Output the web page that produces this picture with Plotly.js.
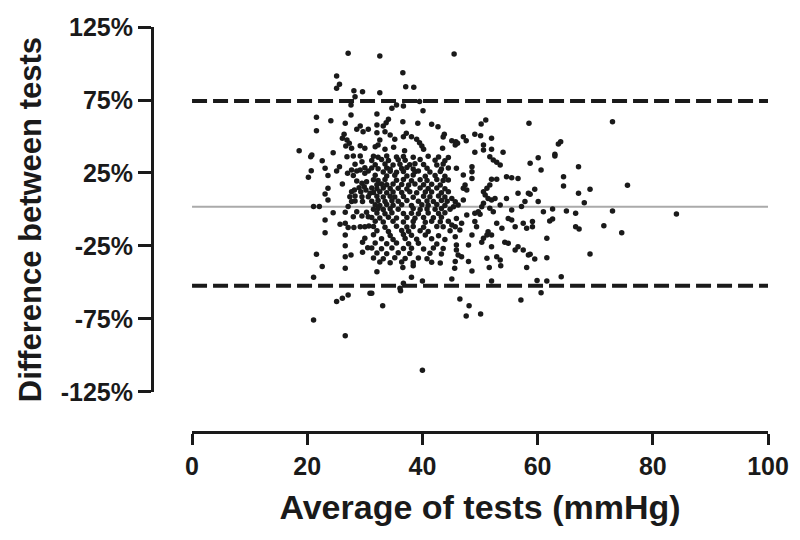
<!DOCTYPE html>
<html>
<head>
<meta charset="utf-8">
<script src="https://cdn.plot.ly/plotly-3.0.1.min.js"></script>
<style>html,body{margin:0;padding:0;background:#fff;}#chart{width:800px;height:540px;}</style>
</head>
<body>
<div id="chart"></div>
<script>
// Bland-Altman: [average of tests (mmHg), difference between tests (%)]
const pointsUpper = [
[27.1,107],[25.1,91.4],[25.6,85.8],[25.1,83],[28.1,81.4],[29.6,80.7],[28.3,77.3],[27.6,71.6],[21.6,63.2],[24.1,60.8],[27.6,64.7],[21.6,54],[26.6,59],[29.2,57.2],[28.6,54.9],[29.7,53.3],[30.6,54.9],[26.4,51.5],[26.1,48.8],[26.9,47.6],[27.3,45.3],[29.2,43.7],[30.0,41.9],[27.7,41.9],[26.7,43.5],[18.6,40.3],[24.5,38.9],[20.8,37.3],
[32.6,105.1],[36.6,93.7],[37.1,84.1],[38.5,83.7],[32.6,80],[39.5,74],[35.5,71.6],[36.7,70.9],[34.7,69.3],[40.1,67.7],[32.1,65.4],[34.1,61.8],[33.7,59.5],[33.2,57.2],[36.6,60.1],[39.2,59],[41.6,58.4],[42.7,56.7],[32.1,57.9],[32.1,52.6],[33.5,53.3],[34.4,51],[36.7,49.9],[37.2,52.2],[38.1,49.9],[39.0,48.1],[39.5,45.8],[39.9,43.5],[40.2,41.2],[35.2,48.1],[32.6,47.6],[32.3,44.2],[31.8,43],[43.8,51.5],[43.6,49.7],[33.5,41.2],[35.0,42.6],[36.9,40.3],[43.5,41.9],
[45.5,106.5],[58.5,59],[51.0,61.3],[50.2,58.6],[47.1,49.9],[47.6,47.1],[49.1,51.5],[50.1,50.5],[52.0,48.8],[45.1,47.1],[45.8,46.4],[45.7,44.2],[46.1,45.3],[50.6,44.2],[50.6,40.8],[52.0,41.2],[49.1,39.2],[54.0,39.2],
[73.0,60.1],[64.0,46.4],[63.6,44.9],[63.0,37.8]
];
const pointsLeft = [
[20.6,36.2],[22.6,33.4],[26.9,36.2],[28.0,36.6],[29.2,36.6],[29.5,32.7],[28.3,31.0],[30.0,28.6],[27.7,27.1],[28.6,26.4],[29.2,27],[27.0,24.8],[28.0,23.2],[30.0,24.8],[30.6,26.4],[20.7,26.6],[23.1,28.2],[25.6,29.3],[25.1,26.4],[20.2,22.1],[23.6,23.2],[26.1,17.5],[28.6,19.5],[29.5,17.9],[30.3,19.0],[29.9,15.6],[29.0,14.9],[28.2,13.4],[27.7,12.2],[27.4,8.8],[28.3,9.2],[29.3,12.2],[30.2,13.4],[30.9,11.1],[30.6,8.8],[29.5,8.8],[28.3,5.8],[27.7,5.4],[29.6,5.4],[23.6,14.5],[23.1,10.6],[23.6,6.5],[21.1,2.0],[22.1,2.0],[27.1,2.0],[24.5,-2.2],[26.6,-1.9],[28.6,-1.5],[30.3,-1.9],[28.0,-5.0],[29.5,-4.5],[30.6,-5.0],[23.1,-7.2],[25.7,-10.1],[26.6,-9.4],[27.1,-12.4],[28.1,-12.4],[29.2,-11.8],[30.0,-11.8],[30.7,-11.3],[23.1,-15.9],[26.6,-17.5],[29.6,-22.5],[30.0,-19.7],[26.6,-24.8],[30.5,-26.2],[21.6,-30.7],[26.6,-32.3],[27.6,-31.2],[29.6,-29.3]
];
const pointsCore = [
[31.5,36.4],[32.3,35.8],[33.8,36.6],[35.5,35.9],[36.7,36.3],[38.4,35.7],[41.0,36.5],[42.8,36.0],[44.5,35.6],
[31.2,33.6],[32.9,34.2],[34.1,33.5],[35.8,34.0],[37.0,33.7],[39.6,34.3],[42.2,33.8],[43.9,33.4],
[31.8,30.7],[33.5,31.2],[34.9,30.5],[36.1,31.0],[37.8,30.6],[38.7,31.3],[40.2,30.8],[42.5,30.4],[43.6,31.1],
[31.2,28.4],[32.3,27.9],[33.8,28.5],[34.4,27.6],[36.4,28.1],[37.3,28.7],[38.4,27.8],[40.8,28.3],[43.3,27.7],[44.5,28.5],
[33.2,25.7],[34.4,26.2],[35.5,25.5],[36.7,26.0],[38.7,25.8],[39.3,26.3],[41.3,25.6],[43.1,26.1],
[31.8,23.4],[33.8,22.9],[35.2,23.5],[37.3,23.0],[38.4,23.6],[40.5,22.8],[42.2,23.3],[43.9,22.7],
[31.5,20.4],[32.3,19.8],[33.5,20.6],[35.5,20.0],[36.7,20.5],[38.1,19.7],[39.6,20.3],[40.8,19.9],[42.5,20.6],[43.6,19.8],[44.5,20.2],
[32.1,17.0],[32.9,17.5],[33.8,16.9],[34.9,17.4],[36.4,17.1],[37.6,16.7],[38.7,17.5],[40.2,17.0],[41.6,17.3],[43.1,16.8],
[31.2,14.7],[32.1,14.2],[33.2,14.8],[34.4,14.3],[35.8,14.6],[37.3,14.1],[39.6,14.7],[41.0,14.3],[42.5,14.8],[43.9,14.2],
[31.5,11.6],[32.6,12.1],[33.8,11.5],[34.9,12.0],[36.4,11.7],[37.8,12.2],[39.0,11.4],[40.5,11.9],[41.6,12.0],[43.3,11.5],[44.5,12.1],
[32.1,9.0],[33.2,8.5],[34.4,9.1],[35.2,8.6],[36.7,8.9],[38.4,8.4],[40.2,9.0],[41.3,8.7],[42.8,9.2],[43.9,8.5],
[31.2,5.6],[32.3,6.1],[33.5,5.5],[34.7,6.0],[35.8,5.7],[37.3,6.2],[39.3,5.6],[40.8,5.9],[41.9,5.5],[43.3,6.1],[44.3,5.7],
[31.8,3.3],[32.6,2.8],[33.8,3.4],[34.9,2.9],[36.4,3.2],[38.1,2.7],[39.9,3.3],[41.0,2.9],[42.5,3.4],[43.9,2.8],
[31.5,0.1],[32.3,0.6],[33.2,0.0],[34.4,0.5],[35.8,0.2],[38.4,0.7],[39.6,0.0],[40.8,0.4],[42.2,0.1],[43.3,0.6],[44.8,0.2],
[32.1,-2.4],[33.5,-2.9],[34.7,-2.3],[36.7,-2.8],[38.1,-2.5],[39.3,-3.0],[41.0,-2.4],[42.8,-2.7],[43.9,-2.3],
[31.2,-5.4],[32.6,-5.9],[34.1,-5.3],[35.5,-5.8],[37.3,-5.5],[38.7,-6.0],[40.2,-5.4],[41.9,-5.7],[43.3,-5.3],
[31.8,-8.1],[33.2,-8.6],[34.9,-8.0],[36.7,-8.5],[38.4,-8.2],[40.5,-8.7],[41.6,-8.1],[43.1,-8.4],[44.5,-8.0],
[31.5,-11.6],[33.5,-12.1],[35.5,-11.5],[37.3,-12.0],[38.4,-11.7],[40.2,-12.2],[42.5,-11.6],[43.6,-11.9],
[32.1,-14.5],[34.1,-15.0],[36.4,-14.4],[37.6,-14.9],[39.6,-14.6],[41.0,-15.1],[44.8,-14.5],
[31.5,-17.3],[34.4,-17.8],[36.7,-17.2],[38.1,-17.7],[40.5,-17.4],[42.8,-17.9],
[32.9,-20.0],[34.9,-20.5],[37.0,-19.9],[39.0,-20.4],[41.6,-20.1],[43.9,-20.6],
[31.8,-23.0],[33.8,-23.5],[35.5,-22.9],[37.6,-23.4],[39.3,-23.1],[42.5,-23.6],
[31.2,-26.4],[32.9,-26.9],[34.7,-26.3],[36.7,-26.8],[38.1,-26.5],[40.2,-27.0],[41.9,-26.4],[43.6,-26.7],
[32.1,-29.8],[33.8,-30.3],[35.8,-29.7],[37.8,-30.2],[41.3,-29.9],[43.3,-30.4],
[31.5,-33.2],[33.2,-33.7],[35.2,-33.1],[37.0,-33.6],[39.3,-33.3],[40.8,-33.8],
[32.6,-36.0],[34.4,-36.5],[36.4,-35.9],[38.4,-36.4],[41.6,-36.1],[43.1,-36.6]
];
const pointsRight = [
[51.7,36.2],[52.3,33.9],[52.9,32.3],[53.5,30.5],[45.9,28.2],[48.6,29.3],[48.6,25.9],[48.6,21.3],[47.1,23.6],[52.0,20.8],[52.9,20.8],[54.6,22.5],[55.5,21.8],[56.6,21.3],[47.4,16.8],[47.1,14.5],[47.7,13.4],[51.7,16.8],[51.2,14.5],[50.6,12.2],[50.9,9.9],[51.4,7.6],[52.0,6.5],[45.1,7.6],[45.7,5.3],[46.2,3.1],[45.4,1.9],[47.1,6.5],[52.6,7.6],[54.6,7.6],[56.6,11.1],[58.4,11.1],[57.8,5.4],[57.2,2.0],[50.6,4.2],[50.3,1.9],[51.7,0.8],[52.3,-1.5],[53.5,3.1],[49.7,-1.5],[49.1,-2.6],[50.0,-3.3],[55.5,-0.3],[47.7,-3.8],[45.9,-6.1],[45.1,-10.6],[45.7,-11.8],[46.8,-9.5],[46.5,-14],[49.1,-8.3],[49.4,-11.8],[52.9,-9.5],[53.8,-12.9],[54.9,-6.1],[55.5,-7.2],[56.1,-11.8],[57.5,-9.5],[58.1,-12.9],[48.6,-17.5],[45.7,-18.6],[51.4,-15.2],[51.2,-17.5],[50.6,-19.7],[50.3,-22.5],[52.0,-17.5],[54.3,-22.5],[54.9,-23.2],[52.0,-25.5],[48.0,-24.3],[45.9,-24.3],[45.9,-27.7],[46.2,-31.2],[46.8,-32.3],[56.1,-27.7],[56.6,-25.5],[57.5,-27.7],[52.9,-32.3],[53.5,-34.6],[48.0,-35.7],[51.2,-33.4],[58.4,-31.2],[45.7,-35.7],
[60.1,35.5],[63.0,36.6],[58.7,31.6],[60.6,27.1],[67.1,29.3],[64.5,22.5],[64.5,16.1],[59.5,13.8],[58.7,10.4],[67.1,11.1],[69.1,13.8],[75.6,16.6],[60.1,5.4],[68.1,4.7],[62.6,0.3],[61.0,-1.5],[65.0,-1.0],[66.6,-2.6],[73.0,-1.0],[84.1,-3.1],[59.1,-8.3],[59.1,-11.8],[62.1,-7.9],[62.6,-6.5],[66.6,-11.8],[67.2,-13.4],[71.5,-11.1],[74.6,-15.9],[61.6,-19.7],[58.7,-30.7],[59.5,-33.9],[61.6,-33],[69.1,-30.5]
];
const pointsLower = [
[22.6,-39.1],[26.6,-40.3],[21.1,-46.4],[25.1,-63.1],[26.1,-60.8],[27.1,-58.5],[30.9,-57.4],[21.1,-75.7],[26.6,-86.4],
[32.1,-42.6],[36.6,-39.8],[38.4,-38.5],[38.1,-46.4],[31.2,-57.4],[36.1,-54],[36.2,-55.6],[36.7,-50.6],[40.0,-49],[33.1,-65.9],[40.0,-110.1],
[45.6,-40.3],[48.6,-42.1],[51.6,-39.8],[53.6,-38.5],[58.1,-39.8],[45.1,-47.6],[52.0,-49],[46.5,-61.3],[48.1,-65.9],[47.6,-72.9],[50.1,-71.6],[57.1,-62],
[59.9,-48.7],[61.6,-49],[64.1,-46],[60.6,-57]
];
const meanDiff = 1.9;
const upperLimit = 74.3;
const lowerLimit = -52.2;
const xTicks = [0, 20, 40, 60, 80, 100];
const xTickLabels = ['0', '20', '40', '60', '80', '100'];
const yTicks = [-125, -75, -25, 25, 75, 125];
const yTickLabels = ['-125%', '-75%', '-25%', '25%', '75%', '125%'];
const xTitle = 'Average of tests (mmHg)';
const yTitle = 'Difference between tests';

const allPoints = [].concat(pointsUpper, pointsLeft, pointsCore, pointsRight, pointsLower);
const ink = '#1a1a1a';
const fontFam = '"Liberation Sans", Arial, Helvetica, sans-serif';

const trace = {
  type: 'scatter', mode: 'markers',
  x: allPoints.map(p => p[0]),
  y: allPoints.map(p => p[1]),
  marker: {size: 5.5, color: ink},
  hoverinfo: 'x+y', showlegend: false
};

const layout = {
  width: 800, height: 540,
  margin: {l: 152, r: 32, t: 27, b: 108, pad: 0},
  paper_bgcolor: '#fff', plot_bgcolor: '#fff',
  font: {family: fontFam, color: ink},
  showlegend: false,
  xaxis: {
    domain: [0.065, 1], range: [0, 100], anchor: 'free', position: 0,
    tickmode: 'array', tickvals: xTicks, ticktext: xTickLabels.map(t => '<b>' + t + '</b>'),
    ticks: 'outside', ticklen: 11, tickwidth: 3, tickcolor: ink,
    showline: true, linewidth: 3, linecolor: ink, showgrid: false, zeroline: false,
    tickfont: {size: 25, family: fontFam, color: ink},
    title: {text: '<b>' + xTitle + '</b>', standoff: 16, font: {size: 34, family: fontFam, color: ink}}
  },
  yaxis: {
    domain: [0.0988, 1], range: [-125, 125], anchor: 'free', position: 0,
    tickmode: 'array', tickvals: yTicks, ticktext: yTickLabels.map(t => '<b>' + t + '</b>'),
    ticks: 'outside', ticklen: 13, tickwidth: 3, tickcolor: ink,
    showline: true, linewidth: 3, linecolor: ink, showgrid: false, zeroline: false,
    tickfont: {size: 25, family: fontFam, color: ink}
  },
  annotations: [{
    text: '<b>' + yTitle + '</b>', textangle: -90, showarrow: false,
    xref: 'paper', yref: 'paper', x: -0.198, y: 0.523, xanchor: 'center', yanchor: 'middle',
    font: {size: 31, family: fontFam, color: ink}
  }],
  shapes: [
    {type: 'line', xref: 'x', yref: 'y', x0: xTicks[0], x1: xTicks[xTicks.length-1], y0: meanDiff, y1: meanDiff, layer: 'below', line: {color: '#aaaaaa', width: 2}},
    {type: 'line', xref: 'x', yref: 'y', x0: xTicks[0], x1: xTicks[xTicks.length-1], y0: upperLimit, y1: upperLimit, line: {color: ink, width: 4, dash: '15px,6px'}},
    {type: 'line', xref: 'x', yref: 'y', x0: xTicks[0], x1: xTicks[xTicks.length-1], y0: lowerLimit, y1: lowerLimit, line: {color: ink, width: 4, dash: '15px,6px'}}
  ]
};

Plotly.newPlot('chart', [trace], layout, {displayModeBar: false, staticPlot: true});
</script>
</body>
</html>
